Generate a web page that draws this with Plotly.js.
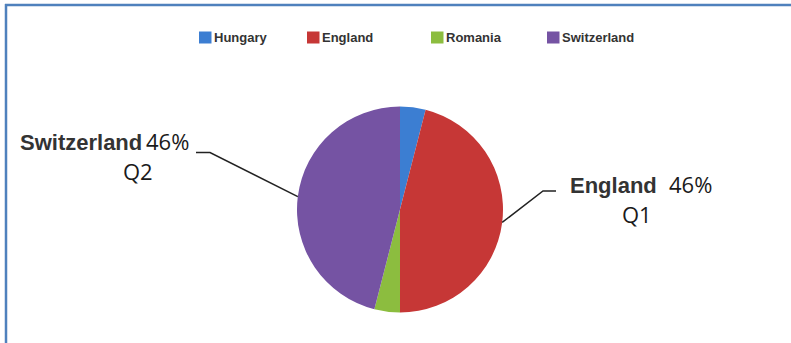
<!DOCTYPE html>
<html>
<head>
<meta charset="utf-8">
<script src="https://cdn.plot.ly/plotly-3.0.1.min.js"></script>
<style>html,body{margin:0;padding:0;background:#fff;}#chart{width:791px;height:343px;}</style>
</head>
<body>
<div id="chart"></div>
<script>
// ---- data ----
var categories = ['Hungary', 'England', 'Romania', 'Switzerland'];
var values = [4, 46, 4, 46];
var quarterLabels = {England: 'Q1', Switzerland: 'Q2'};
var colors = ['#3c7ed2', '#c63736', '#8cbd3f', '#7553a3'];

// ---- layout helpers ----
var W = 791, H = 343;
function px(x) { return x / W; }
function py(y) { return 1 - y / H; }
var cx = 400, cy = 209.5, R = 103;

var total = values.reduce(function (a, b) { return a + b; }, 0);
function pct(i) { return Math.round(values[i] / total * 100) + '%'; }
function midAngle(i) {
  var s = 0;
  for (var k = 0; k < i; k++) s += values[k];
  return (s + values[i] / 2) / total * 2 * Math.PI;
}
function edgePoint(i) {
  var a = midAngle(i);
  return [cx + R * Math.sin(a), cy - R * Math.cos(a)];
}

var trace = {
  type: 'pie',
  labels: categories,
  values: values,
  sort: false,
  direction: 'clockwise',
  rotation: 0,
  marker: {colors: colors, line: {width: 0}},
  textinfo: 'none',
  hoverinfo: 'label+percent',
  showlegend: false,
  domain: {x: [px(cx - R), px(cx + R)], y: [py(cy + R), py(cy - R)]}
};

var shapes = [
  // frame
  {type: 'line', xref: 'paper', yref: 'paper', x0: px(5), x1: 1, y0: py(5), y1: py(5), line: {color: '#4f81bd', width: 2.5}},
  {type: 'line', xref: 'paper', yref: 'paper', x0: px(6), x1: px(6), y0: py(4), y1: 0, line: {color: '#4f81bd', width: 2.5}}
];
var annotations = [];

// legend (manual)
var legendX = [199, 307, 431, 547];
var legendY = 37.5;
categories.forEach(function (c, i) {
  shapes.push({type: 'rect', xref: 'paper', yref: 'paper',
    x0: px(legendX[i]), x1: px(legendX[i] + 12.5), y0: py(legendY + 6), y1: py(legendY - 6),
    fillcolor: colors[i], line: {width: 0}});
  annotations.push({xref: 'paper', yref: 'paper', x: px(legendX[i] + 13), y: py(legendY),
    xanchor: 'left', yanchor: 'middle', showarrow: false, text: '<b>' + c + '</b>',
    font: {family: 'Liberation Sans, Arial, sans-serif', size: 13, color: '#333333'}});
});

// leader lines + labels
var iSw = categories.indexOf('Switzerland');
var iEn = categories.indexOf('England');
var pSw = edgePoint(iSw), pEn = edgePoint(iEn);
function pathOf(pts) {
  return pts.map(function (p, k) { return (k ? 'L' : 'M') + px(p[0]) + ',' + py(p[1]); }).join(' ');
}
shapes.push({type: 'path', xref: 'paper', yref: 'paper', path: pathOf([[196, 152.5], [210, 152.5], pSw]),
  line: {color: '#222222', width: 1.5}});
shapes.push({type: 'path', xref: 'paper', yref: 'paper', path: pathOf([pEn, [543, 191], [556, 191]]),
  line: {color: '#222222', width: 1.5}});

var nameFont = {family: 'Liberation Sans, Arial, sans-serif', size: 22, color: '#333333', weight: 'bold'};
var numFont = {family: 'Open Sans, sans-serif', size: 22, color: '#1a1a1a'};
function addText(t, x, y, f) {
  annotations.push({xref: 'paper', yref: 'paper', x: px(x), y: py(y), xanchor: 'left', yanchor: 'middle',
    showarrow: false, text: t, font: f});
}
addText('<b>Switzerland</b>', 18, 142, nameFont);
addText(pct(iSw), 144, 141, numFont);
addText(quarterLabels.Switzerland, 121, 171, numFont);
addText('<b>England</b>', 568, 185, nameFont);
addText(pct(iEn), 667, 184, numFont);
addText(quarterLabels.England, 620, 214, numFont);

var layout = {
  width: W, height: H,
  margin: {l: 0, r: 0, t: 0, b: 0},
  paper_bgcolor: '#ffffff',
  showlegend: false,
  shapes: shapes,
  annotations: annotations
};
Plotly.newPlot('chart', [trace], layout, {displayModeBar: false, staticPlot: true});
</script>
</body>
</html>
